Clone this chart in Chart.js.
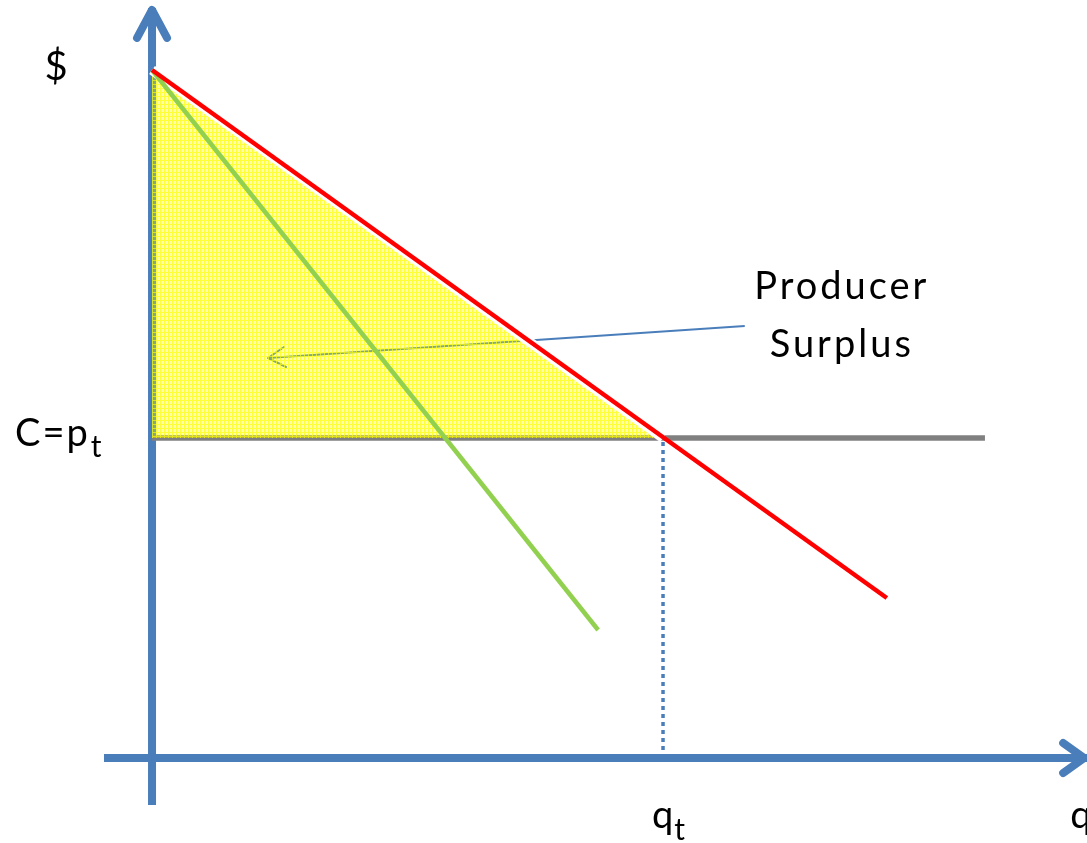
<!DOCTYPE html>
<html><head><meta charset="utf-8">
<script src="https://cdn.jsdelivr.net/npm/chart.js@4.4.1/dist/chart.umd.min.js"></script>
<style>html,body{margin:0;padding:0;background:#fff;overflow:hidden}canvas{display:block}</style>
</head><body><canvas id="c" width="1087" height="843"></canvas>
<script>
// ---- values (q units, $ units) ----
const qt = 10;            // market quantity q_t
const pt = 10;            // price C = p_t
const topPrice = 21.5;    // common intercept on the $ axis
const redLine = [{x:0,y:21.5},{x:14.38,y:5.0}];
const greenLine = [{x:0,y:21.5},{x:8.73,y:4.0}];
const priceLine = [{x:0,y:10},{x:16.3,y:10}];
const qtGuide = [{x:10,y:0},{x:10,y:10}];
const surplusTop = [{x:0,y:21.5},{x:10,y:10}];
const pointer = [{x:11.6,y:13.5},{x:2.27,y:12.5}];
const yAxisLine = [{x:0,y:-1.47},{x:0,y:23.44}];
const xAxisLine = [{x:-0.94,y:0},{x:18.3,y:0}];
const yLabel = '$';
const xLabel = 'q';
const priceLabel = ['C=p','t'];
const qtyLabel = ['q','t'];
const noteLabel = ['Producer','Surplus'];

const AXIS = '#4a7ebb';
const FONT = 'Lato, "Open Sans", sans-serif';

// fill pattern (yellow textured)
const pc = document.createElement('canvas'); pc.width = 4; pc.height = 4;
const px = pc.getContext('2d');
for (let i = 0; i < 4; i++) for (let j = 0; j < 4; j++) {
  px.fillStyle = (i === 0 || j === 0) ? 'rgba(255,255,0,0.78)' : 'rgba(255,255,0,0.32)';
  px.fillRect(i, j, 1, 1);
}
const ctx0 = document.getElementById('c').getContext('2d');
const yellowPattern = ctx0.createPattern(pc, 'repeat');

function line(data, color, width, order, extra) {
  return Object.assign({data, borderColor: color, borderWidth: width, showLine: true,
    pointRadius: 0, pointHoverRadius: 0, fill: false, order, tension: 0}, extra || {});
}

function sub(c, main, s, x, y, mainSize, subSize, dy, spacing) {
  c.font = mainSize + 'px ' + FONT;
  c.letterSpacing = spacing + 'px';
  c.fillText(main, x, y);
  const w = c.measureText(main).width;
  c.font = subSize + 'px ' + FONT;
  c.fillText(s, x + w + 1, y + dy);
}

const decor = {
  id: 'decor',
  beforeDatasetsDraw(chart) {
    const c = chart.ctx, xs = chart.scales.x, ys = chart.scales.y;
    c.save();
    c.strokeStyle = AXIS; c.lineCap = 'round'; c.lineJoin = 'round';
    const ytx = xs.getPixelForValue(yAxisLine[1].x), yty = ys.getPixelForValue(yAxisLine[1].y);
    c.lineWidth = 8;
    c.beginPath(); c.moveTo(ytx - 15, yty + 30); c.lineTo(ytx, yty + 2); c.lineTo(ytx + 15, yty + 30); c.stroke();
    const xtx = xs.getPixelForValue(xAxisLine[1].x), xty = ys.getPixelForValue(xAxisLine[1].y);
    c.beginPath(); c.moveTo(xtx - 24, xty - 15); c.lineTo(xtx - 3, xty); c.lineTo(xtx - 24, xty + 15); c.stroke();
    const ax = xs.getPixelForValue(pointer[1].x), ay = ys.getPixelForValue(pointer[1].y);
    c.lineWidth = 2;
    c.beginPath(); c.moveTo(ax + 16, ay - 11); c.lineTo(ax, ay); c.lineTo(ax + 18, ay + 9); c.stroke();
    c.restore();
  },
  afterDatasetsDraw(chart) {
    const c = chart.ctx, xs = chart.scales.x, ys = chart.scales.y;
    const x0 = xs.getPixelForValue(0), y0 = ys.getPixelForValue(0);
    c.save();
    c.fillStyle = '#000';
    c.textBaseline = 'alphabetic';
    c.textAlign = 'center';
    c.font = '40px ' + FONT;
    c.fillText(yLabel, x0 - 96, ys.getPixelForValue(topPrice) + 10);
    c.textAlign = 'left';
    const py = ys.getPixelForValue(pt);
    sub(c, priceLabel[0], priceLabel[1], x0 - 137, py + 8, 38, 30, 11, 2);
    const qx = xs.getPixelForValue(qt);
    sub(c, qtyLabel[0], qtyLabel[1], qx - 11, y0 + 70, 38, 30, 12, 0);
    c.font = '38px ' + FONT;
    c.letterSpacing = '0px';
    c.fillText(xLabel, xs.getPixelForValue(xAxisLine[1].x) - 17, y0 + 70);
    c.textAlign = 'center';
    c.letterSpacing = '3px';
    const nx = xs.getPixelForValue(pointer[0].x) + 97, ny = ys.getPixelForValue(pointer[0].y);
    c.fillText(noteLabel[0], nx, ny - 27);
    c.fillText(noteLabel[1], nx, ny + 31);
    c.restore();
  }
};

new Chart(ctx0, {
  type: 'scatter',
  data: {
    datasets: [
      line(redLine, '#ff0000', 4.5, 1),
      line(greenLine, '#92d050', 4.5, 2),
      line(surplusTop, '#ffffff', 10, 3),
      line(surplusTop, 'rgba(0,0,0,0)', 0, 4, {fill: {value: pt}, backgroundColor: yellowPattern}),
      line(pointer, AXIS, 2, 5),
      line(qtGuide, AXIS, 3.5, 6, {borderDash: [4, 4]}),
      line(priceLine, '#808080', 5.5, 7),
      line(xAxisLine, AXIS, 8, 8),
      line(yAxisLine, AXIS, 8, 9)
    ]
  },
  options: {
    responsive: false,
    animation: false,
    devicePixelRatio: 1,
    layout: {padding: 0},
    plugins: {legend: {display: false}, tooltip: {enabled: false}},
    events: [],
    scales: {
      x: {type: 'linear', display: false, min: -2.975, max: 18.297},
      y: {type: 'linear', display: false, min: -2.656, max: 23.6875}
    }
  },
  plugins: [decor]
});
</script>
</body></html>
